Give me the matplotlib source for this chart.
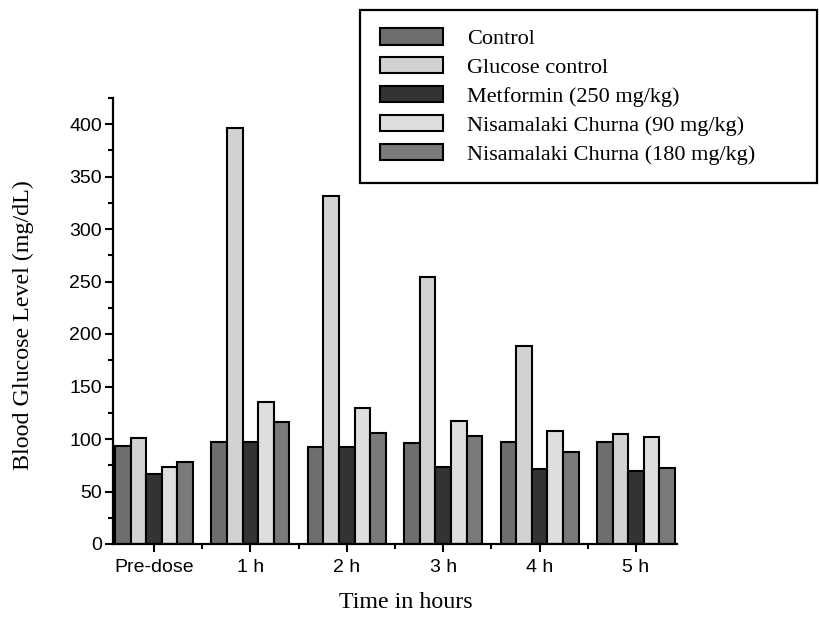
import numpy as np
import matplotlib
matplotlib.use('Agg')
import matplotlib.pyplot as plt
from matplotlib.patches import Rectangle
from matplotlib.ticker import MultipleLocator, FixedLocator

groups = ['Pre-dose', '1 h', '2 h', '3 h', '4 h', '5 h']
series = ['Control', 'Glucose control', 'Metformin (250 mg/kg)',
          'Nisamalaki Churna (90 mg/kg)', 'Nisamalaki Churna (180 mg/kg)']
control = [93.5, 97, 92.5, 96.5, 97.5, 97.5]
glucose = [101, 396, 331, 254, 189, 104.5]
metformin = [67, 97.5, 92, 73, 71.5, 70]
nc90 = [73, 135, 129.5, 117, 108, 101.5]
nc180 = [78.5, 116, 106, 103, 88, 72.5]
colors = ['#6e6e6e', '#d2d2d2', '#333333', '#dedede', '#7a7a7a']

serif = 'Liberation Serif'
sans = 'Liberation Sans'

fig = plt.figure(figsize=(8.19, 6.19), dpi=100)
ax = fig.add_axes([113/819, 1-544/619, (677-113)/819, (544-97.75)/619])

x = np.arange(len(groups))
w = 0.162
handles = []
for i, vals in enumerate([control, glucose, metformin, nc90, nc180]):
    b = ax.bar(x + (i - 2) * w, vals, w, color=colors[i], edgecolor='black',
               linewidth=1.5, label=series[i])
    handles.append(b)

ax.set_xlim(-0.425, 5.425)
ax.set_ylim(0, 425)
ax.yaxis.set_major_locator(MultipleLocator(50))
ax.yaxis.set_minor_locator(MultipleLocator(25))
ax.set_xticks(x)
ax.set_xticklabels(groups, fontfamily=sans, fontsize=14)
ax.xaxis.set_minor_locator(FixedLocator(x[:-1] + 0.5))
for lab in ax.get_yticklabels():
    lab.set_fontfamily(sans)
    lab.set_fontsize(14)
ax.tick_params(axis='both', which='major', direction='out', length=6, width=1.5)
ax.tick_params(axis='both', which='minor', direction='out', length=3.5, width=1.5)
ax.tick_params(axis='y', pad=2)
ax.tick_params(axis='x', pad=5)
for s in ['top', 'right']:
    ax.spines[s].set_visible(False)
for s in ['left', 'bottom']:
    ax.spines[s].set_linewidth(1.6)

fig.text(406/819, 1-602/619, 'Time in hours', fontfamily=serif,
         fontsize=17.3, ha='center', va='center')
fig.text(23/819, 1-325/619, 'Blood Glucose Level (mg/dL)', fontfamily=serif,
         fontsize=17.3, rotation=90, ha='center', va='center')

# legend box
fig.patches.append(Rectangle((360/819, 1-183/619), 457/819, 173/619,
                             transform=fig.transFigure, fill=False,
                             edgecolor='black', linewidth=1.6))
leg = fig.legend(handles=handles, loc='upper left',
                 bbox_to_anchor=(360/819, 1-8/619), frameon=False,
                 prop={'family': serif, 'size': 16}, handlelength=2.84,
                 handleheight=0.77, handletextpad=1.08, labelspacing=0.355)

fig.savefig('out.png', dpi=100)
